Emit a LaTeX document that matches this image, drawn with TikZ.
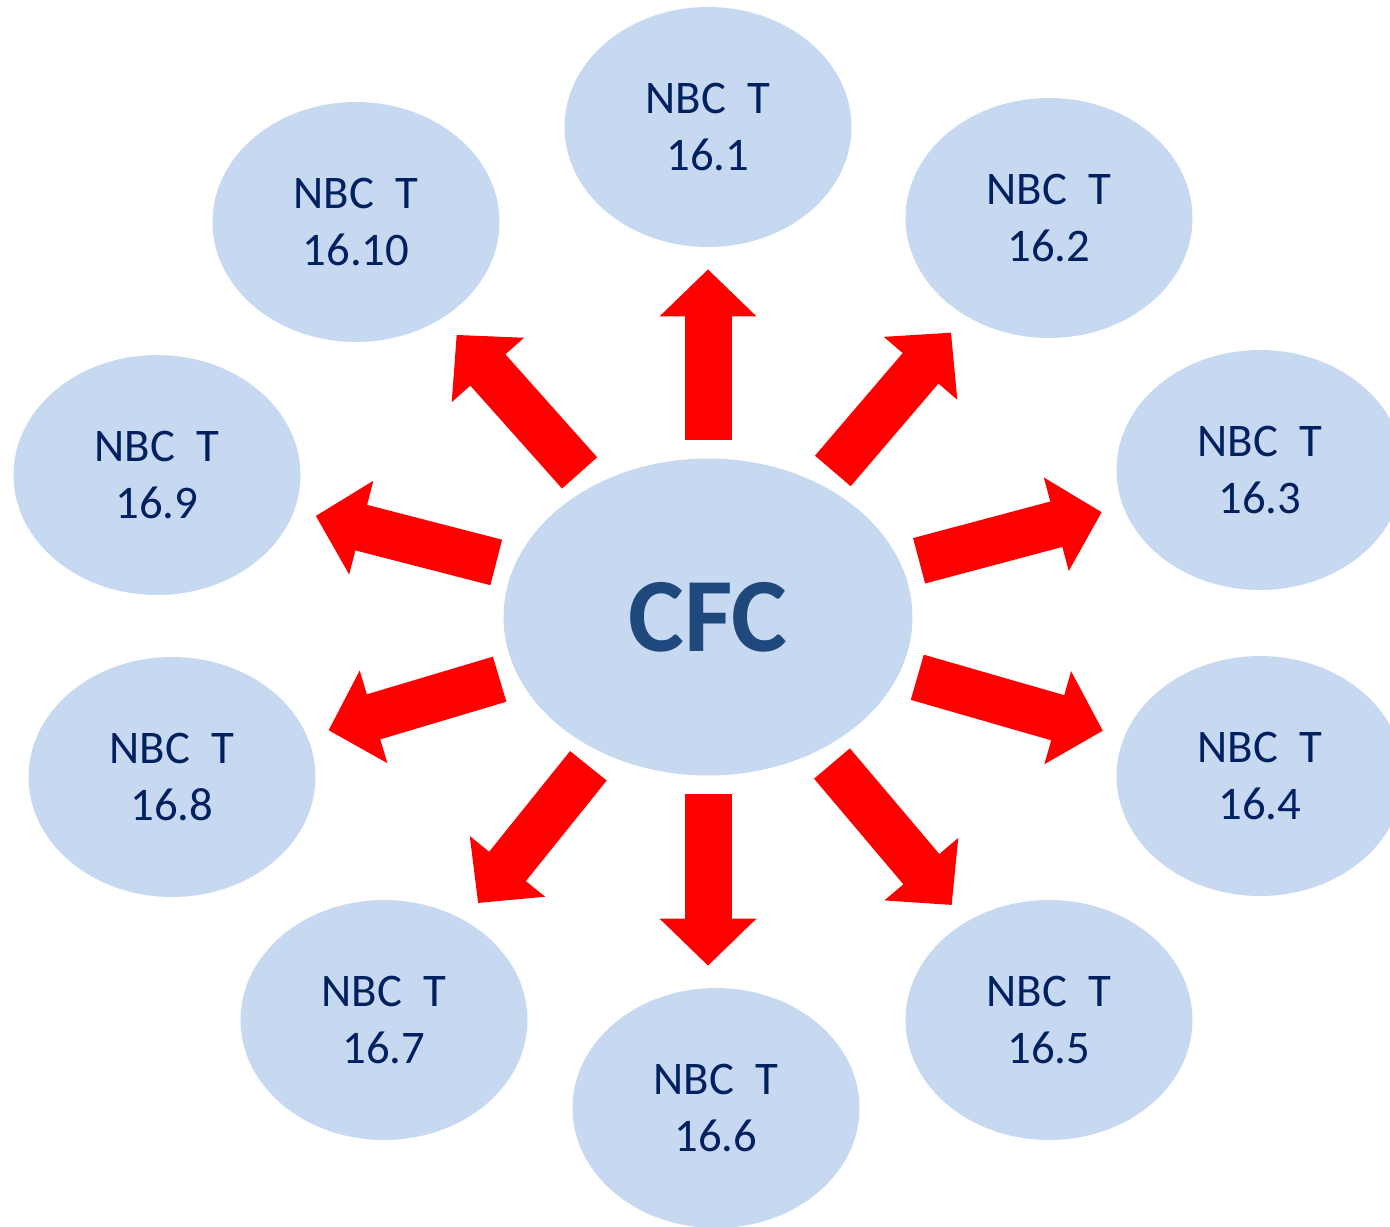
\documentclass[tikz,border=0pt]{standalone}
\usepackage{fontspec}
\setmainfont{Carlito}
\usepackage{tikz}
\usetikzlibrary{shapes.geometric}
\usetikzlibrary{arrows.meta}
\definecolor{bubble}{RGB}{198,217,240}
\definecolor{navy}{RGB}{0,32,96}
\definecolor{steel}{RGB}{31,73,125}

\tikzset{
  nbc/.style = {ellipse, fill=bubble, inner sep=0pt, minimum width=5.74cm, minimum height=4.8cm,
                align=center, text=navy, font=\fontsize{26.6}{32.9}\selectfont},
  hub/.style = {ellipse, fill=bubble, inner sep=0pt, minimum width=8.18cm, minimum height=6.34cm,
                text=steel, font=\fontsize{60}{66}\selectfont\bfseries},
  spoke/.style = {red, line width=0.94cm, shorten <=0.36cm, shorten >=0.44cm,
                  -{Triangle[length=0.94cm,width=1.88cm]}}
}

\begin{document}
\begin{tikzpicture}[x=0.02cm, y=-0.02cm]
\useasboundingbox (0,0) rectangle (1390,1227);
\node[hub] (cfc) at (708,617) {CFC};
\node[nbc] (n1) at (708,127) {NBC~~T\\16.1};
\node[nbc] (n2) at (1049,218) {NBC~~T\\16.2};
\node[nbc] (n3) at (1260,470) {NBC~~T\\16.3};
\node[nbc] (n4) at (1260,776) {NBC~~T\\16.4};
\node[nbc] (n5) at (1049,1020) {NBC~~T\\16.5};
\node[nbc] (n6) at (716,1108) {NBC~~T\\16.6};
\node[nbc] (n7) at (384,1020) {NBC~~T\\16.7};
\node[nbc] (n8) at (172,777) {NBC~~T\\16.8};
\node[nbc] (n9) at (157,475) {NBC~~T\\16.9};
\node[nbc] (n10) at (356,222) {NBC~~T\\16.10};
\foreach \k in {1,2,3,4,5,7,8,9,10}
  \draw[spoke] (cfc) -- (n\k);
% straight down to the bottom bubble
\draw[spoke] (cfc) -- (cfc |- n6.north);
\end{tikzpicture}
\end{document}
